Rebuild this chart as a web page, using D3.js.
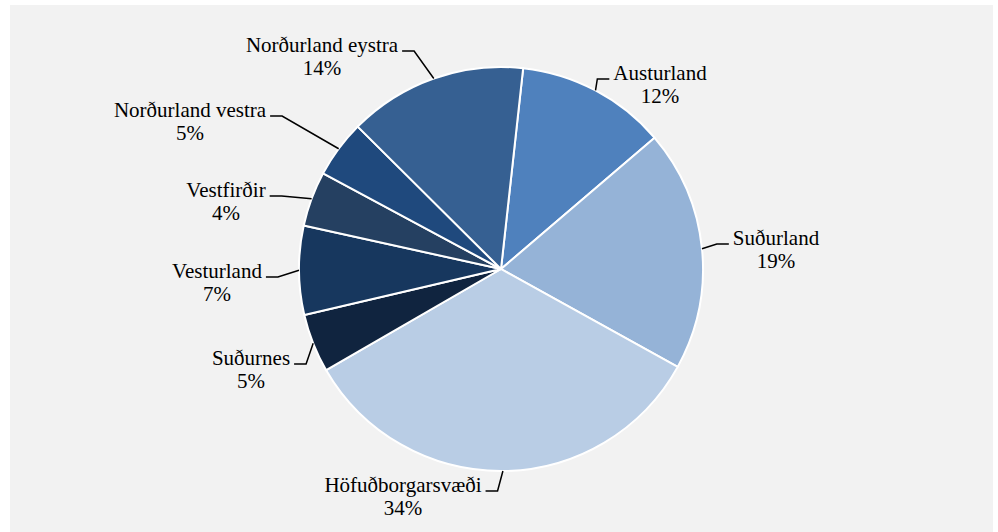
<!DOCTYPE html>
<html>
<head>
<meta charset="utf-8">
<script src="https://cdn.jsdelivr.net/npm/d3@7"></script>
<style>
  body { margin: 0; background: #fff; }
  text { font-family: "Liberation Serif", "Times New Roman", serif; font-size: 21px; fill: #000; }
</style>
</head>
<body>
<div id="chart"></div>
<script>
// data, clockwise from the top
var regions = ["Austurland", "Suðurland", "Höfuðborgarsvæði", "Suðurnes",
  "Vesturland", "Vestfirðir", "Norðurland vestra", "Norðurland eystra"];
var shares = [12.0, 19.3, 33.6, 4.7, 7.1, 4.4, 4.6, 14.3];
var colors = ["#4f81bd", "#95b3d7", "#b9cde5", "#10243f",
  "#17375e", "#254061", "#1f497d", "#366092"];

// label placement (centre x, first baseline)
var labelPos = [[660, 80], [776, 245], [403, 492], [251, 365],
  [217, 278], [226, 197], [190, 117], [322, 52]];

var svgWidth = 998;
var svgHeight = 532;
var cx = 501, cy = 269, radius = 202;
var firstAngle = 6.3 * Math.PI / 180;

var svg = d3.select("#chart")
  .append("svg")
  .attr("width", svgWidth)
  .attr("height", svgHeight);

// grey chart area
svg.append("rect")
  .attr("x", 10)
  .attr("y", 5)
  .attr("width", 983)
  .attr("height", svgHeight - 5)
  .attr("fill", "#f2f2f2");

var data = regions.map(function(r, i) {
  return { name: r, value: shares[i], color: colors[i], pos: labelPos[i] };
});

var pie = d3.pie()
  .sort(null)
  .value(d => d.value)
  .startAngle(firstAngle)
  .endAngle(firstAngle + 2 * Math.PI);

var arc = d3.arc().innerRadius(0).outerRadius(radius);
var edge = d3.arc().innerRadius(radius).outerRadius(radius);

var arcs = pie(data);

var pieGroup = svg.append("g")
  .attr("transform", `translate(${cx}, ${cy})`);

pieGroup.selectAll("path")
  .data(arcs)
  .enter()
  .append("path")
  .attr("d", arc)
  .attr("fill", d => d.data.color)
  .attr("stroke", "#fff")
  .attr("stroke-width", 2)
  .attr("stroke-linejoin", "round");

// labels
var labels = svg.append("g");

arcs.forEach(function(d) {
  var px = d.data.pos[0], py = d.data.pos[1];
  var t = labels.append("text")
    .attr("text-anchor", "middle")
    .attr("x", px)
    .attr("y", py);
  t.append("tspan").attr("x", px).text(d.data.name);
  t.append("tspan").attr("x", px).attr("dy", 23).text(Math.round(d.data.value) + "%");

  // leader line from label to slice edge
  var w = t.select("tspan").node().getComputedTextLength();
  var e = edge.centroid(d);
  var tx = cx + e[0], ty = cy + e[1];
  var onRight = tx < px;
  var ax = onRight ? px - w / 2 - 4 : px + w / 2 + 4;
  var ay = py - 1;
  var bx = onRight ? ax - 12 : ax + 12;
  if (onRight && bx < tx) bx = tx;
  if (!onRight && bx > tx) bx = tx;

  labels.append("path")
    .attr("d", `M${ax},${ay}L${bx},${ay}L${tx},${ty}`)
    .attr("fill", "none")
    .attr("stroke", "#000")
    .attr("stroke-width", 1.5);
});
</script>
</body>
</html>
